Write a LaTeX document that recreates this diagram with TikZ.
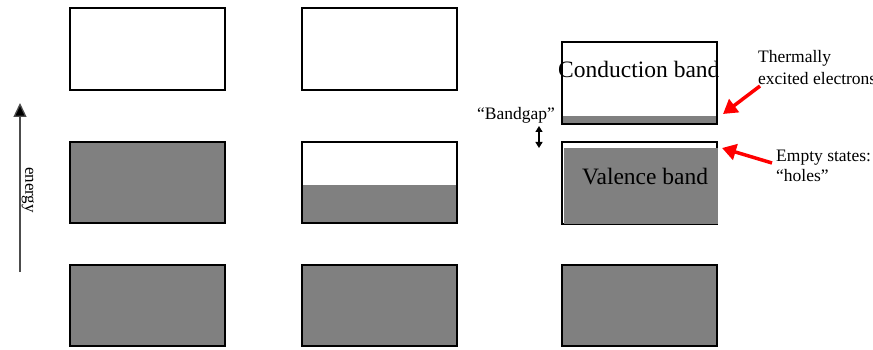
\documentclass[tikz,border=0pt]{standalone}
\usepackage{fontspec}
\setmainfont{Liberation Serif}
\usetikzlibrary{arrows.meta}
\definecolor{bandgray}{HTML}{808080}
\definecolor{arrred}{HTML}{FF0000}
\tikzset{
  band/.style={draw=black, line width=2pt},
  fillgray/.style={fill=bandgray},
  bigtxt/.style={font=\fontsize{23.5}{26}\selectfont, inner sep=0pt, anchor=base west},
  smalltxt/.style={font=\fontsize{17.5}{20}\selectfont, inner sep=0pt, anchor=base west},
  redarrow/.style={draw=arrred, line width=3.5pt, -{Triangle[length=14pt,width=16pt]}},
}
\begin{document}
\begin{tikzpicture}[x=1pt,y=-1pt]
\useasboundingbox (0,0) rectangle (873,350);
% column 1
\draw[band] (70,8) rectangle (225,90);
\fill[fillgray] (70,142) rectangle (225,223);
\draw[band] (70,142) rectangle (225,223);
\fill[fillgray] (70,265) rectangle (225,346);
\draw[band] (70,265) rectangle (225,346);
% column 2
\draw[band] (302,8) rectangle (457,90);
\fill[fillgray] (302,185) rectangle (457,223);
\draw[band] (302,142) rectangle (457,223);
\fill[fillgray] (302,265) rectangle (457,346);
\draw[band] (302,265) rectangle (457,346);
% column 3
\fill[fillgray] (562,116) rectangle (717,124);
\draw[band] (562,42) rectangle (717,124);
\draw[band] (562,142) rectangle (717,224);
\fill[fillgray] (564,148) rectangle (718,224);
\fill[fillgray] (562,265) rectangle (717,346);
\draw[band] (562,265) rectangle (717,346);
% labels in column 3
\node[bigtxt] (cb) at (558,78) {Conduction band};
\node[bigtxt] (vb) at (582,185) {Valence band};
\node[smalltxt] (bg) at (477,120) {“Bandgap”};
\coordinate (bgtop) at (539,126);
\coordinate (bgbot) at (539,148);
\draw[line width=1.2pt, {Triangle[length=6pt,width=7pt]}-{Triangle[length=6pt,width=7pt]}] (bgtop) -- (bgbot);
% right labels
\node[smalltxt] (th1) at (758,63) {Thermally};
\node[smalltxt] (th2) at (758,85) {excited electrons};
\node[smalltxt] (es1) at (776,162) {Empty states:};
\node[smalltxt] (es2) at (776,182) {“holes”};
\coordinate (a1s) at (760,86);
\coordinate (a1e) at (723,114);
\coordinate (a2s) at (772,163);
\coordinate (a2e) at (722,148);
\draw[redarrow] (a1s) -- (a1e);
\draw[redarrow] (a2s) -- (a2e);
% energy axis
\coordinate (e0) at (20,272);
\coordinate (e1) at (20,103);
\draw[line width=1.3pt, draw=black!70, -{Triangle[length=14pt,width=13pt,fill=black]}] (e0) -- (e1);
\node[font=\fontsize{17}{20}\selectfont, rotate=-90, inner sep=0pt] (en) at (28,190) {energy};
\end{tikzpicture}
\end{document}
